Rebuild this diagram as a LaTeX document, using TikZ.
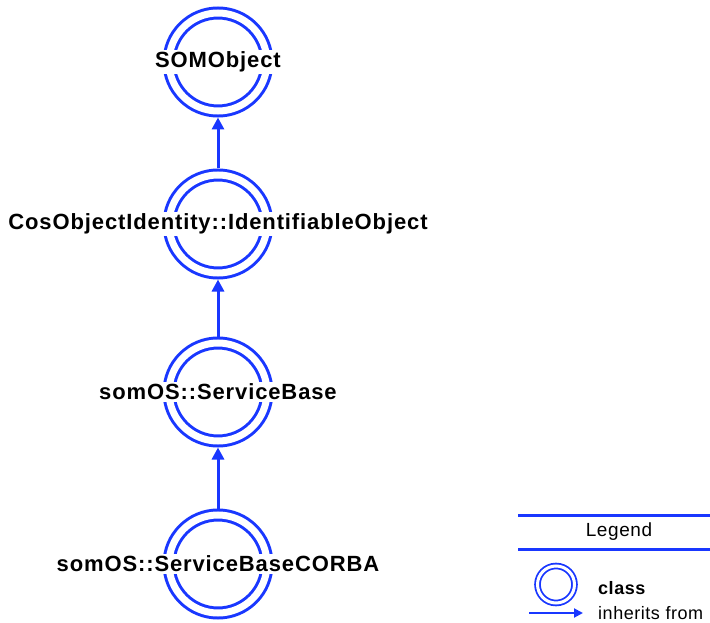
\documentclass[tikz,border=0pt]{standalone}
\usepackage{fontspec}
\setmainfont{Liberation Sans}
\usetikzlibrary{shapes, arrows.meta, positioning}
\definecolor{somblue}{RGB}{25,55,255}
\tikzset{
	classring/.style={circle, draw=somblue, double=white, line width=3pt,
		double distance=7pt, minimum size=98pt, inner sep=0pt, outer sep=6.5pt},
	classname/.style={fill=white, inner sep=1.5pt, text=black,
		font=\fontsize{22}{26}\selectfont\bfseries\addfontfeatures{LetterSpace=4}},
	inherit/.style={draw=somblue, line width=3pt,
		-{Triangle[length=12pt,width=12pt]}},
	legendtext/.style={inner sep=0pt, anchor=west,
		font=\fontsize{18}{22}\selectfont\addfontfeatures{LetterSpace=3}}
}

\begin{document}
\begin{tikzpicture}[x=1pt, y=1pt]
	\useasboundingbox (0,0) rectangle (710,-623);
	% draw class rings
	\node[classring, label={[classname]center:SOMObject}] (somobject) at (218,-62) {};
	\node[classring, label={[classname]center:CosObjectIdentity::IdentifiableObject}] (identifiable) at (218,-224) {};
	\node[classring, label={[classname]center:somOS::ServiceBase}] (servicebase) at (218,-392) {};
	\node[classring, label={[classname]center:somOS::ServiceBaseCORBA}] (servicebasecorba) at (218,-564) {};
	
	% Arrows
	\draw[inherit] (identifiable) -- (somobject);
	\draw[inherit] (servicebase) -- (identifiable);
	\draw[inherit] (servicebasecorba) -- (servicebase);
	
	% Legend
	\node[font=\fontsize{19}{23}\selectfont\addfontfeatures{LetterSpace=3}] (legend) at (619,-532) {Legend};
	\draw[somblue, line width=3pt] (518,-515) -- (710,-515);
	\draw[somblue, line width=3pt] (518,-549) -- (710,-549);
	\node[classring, line width=1.8pt, double distance=3pt, minimum size=37pt,
	outer sep=3pt] (legendring) at (556,-584.5) {};
	\node[legendtext, font=\fontsize{18}{22}\selectfont\bfseries\addfontfeatures{LetterSpace=3}] (classlabel) at (598,-588) {class};
	\node[legendtext] (inheritlabel) at (598,-613) {inherits from};
	\coordinate (arrowstart) at (529,-613);
	\coordinate (arrowend) at (583,-613);
	\draw[inherit, line width=2pt, -{Triangle[length=9pt,width=9pt]}] (arrowstart) -- (arrowend);
\end{tikzpicture}
\end{document}
